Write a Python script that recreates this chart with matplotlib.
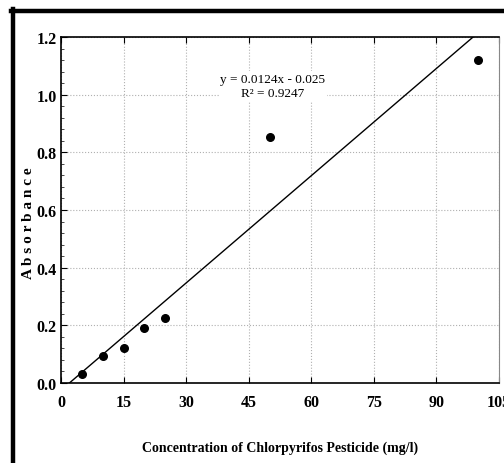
import numpy as np
import matplotlib.pyplot as plt
from matplotlib.lines import Line2D
from matplotlib.ticker import MultipleLocator

# Absorbance vs. chlorpyrifos concentration
conc = [5, 10, 15, 20, 25, 50, 100]
absorbance = [0.03, 0.095, 0.12, 0.19, 0.225, 0.855, 1.12]

# Linear calibration fit
slope = 0.0124
intercept = -0.025
r2 = 0.9247

x_ticks = [0, 15, 30, 45, 60, 75, 90, 105]
y_ticks = [0.0, 0.2, 0.4, 0.6, 0.8, 1.0, 1.2]

plt.rcParams['font.family'] = ['Liberation Serif', 'DejaVu Serif']

fig = plt.figure(figsize=(5.04, 4.64), dpi=100)
ax = fig.add_axes([0.121, 0.1724, 0.869, 0.7456])

xf = np.array([0, 105])
ax.plot(xf, slope * xf + intercept, color='black', lw=1.0, zorder=2)
ax.scatter(conc, absorbance, s=30, color='black', zorder=3)

ax.set_xlim(0, 105)
ax.set_ylim(0, 1.2)
ax.set_xticks(x_ticks)
ax.set_yticks(y_ticks)
ax.set_yticklabels([f'{v:.1f}' for v in y_ticks])
ax.yaxis.set_minor_locator(MultipleLocator(0.04))

ax.grid(True, which='major', linestyle=':', color='#b0b0b0', lw=0.8)
ax.tick_params(axis='both', which='major', direction='in', length=4,
               top=True, labelsize=11.5, width=0.8)
ax.tick_params(axis='y', which='minor', direction='in', length=2, width=0.5)
for lbl in ax.get_xticklabels() + ax.get_yticklabels():
    lbl.set_fontweight('bold')
ax.tick_params(axis='x', pad=8)
ax.tick_params(axis='y', pad=3)

for side in ['left', 'bottom', 'top']:
    ax.spines[side].set_linewidth(1.2)
ax.spines['right'].set_color('#888888')
ax.spines['right'].set_linewidth(0.8)

ax.set_xlabel('Concentration of Chlorpyrifos Pesticide (mg/l)',
              fontsize=10, fontweight='bold', labelpad=22)
fig.text(0.056, 0.52, 'A b s o r b a n c e', rotation=90, fontsize=11,
         fontweight='bold', ha='center', va='center')

ax.text(50.8, 1.03, f'y = {slope}x - {abs(intercept)}\nR² = {r2}',
        ha='center', va='center', fontsize=9.5, linespacing=1.3,
        bbox=dict(facecolor='white', edgecolor='none', pad=1))

# frame lines along the left and top edges of the figure
fig.add_artist(Line2D([0.026, 0.026], [0, 0.978], color='black', lw=3.2,
                      transform=fig.transFigure))
fig.add_artist(Line2D([0.022, 1.0], [0.975, 0.975], color='black', lw=3.2,
                      transform=fig.transFigure))

fig.savefig('out.png', dpi=100)
